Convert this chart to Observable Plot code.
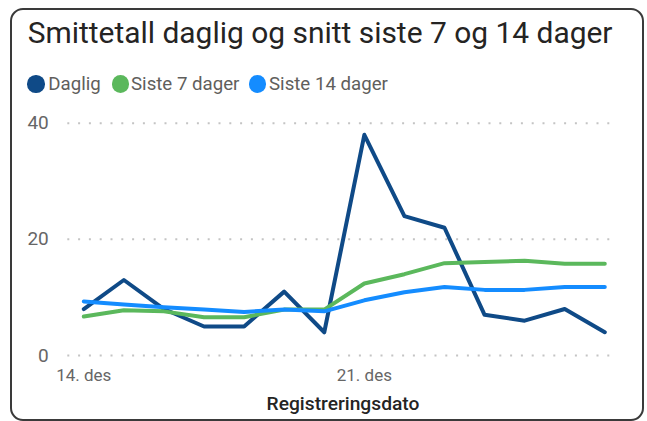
<!DOCTYPE html>
<html>
<head>
<meta charset="utf-8">
<script src="https://cdn.jsdelivr.net/npm/d3@7"></script>
<script src="https://cdn.jsdelivr.net/npm/@observablehq/plot@0.6"></script>
<style>
  html, body { margin: 0; padding: 0; background: #fff; }
  body { width: 647px; height: 421px; overflow: hidden; position: relative; font-family: Roboto, sans-serif; }
  #frame { position: absolute; left: 10px; top: 8px; width: 634px; height: 413px; box-sizing: border-box;
           border: 2px solid #3a3a3a; border-radius: 13px; }
  .txt { position: absolute; white-space: nowrap; line-height: 1; }
  #title { color: #252423; font-size: 29px; }
  .leg { color: #605e5c; font-size: 18px; }
  .dot { position: absolute; border-radius: 50%; }
  #xtitle { color: #252423; font-size: 17px; font-weight: 500; }
  #chart { position: absolute; left: 0; top: 100px; }
</style>
</head>
<body>
<div id="frame"></div>
<div id="title" class="txt"></div>
<div id="legend"></div>
<div id="chart"></div>
<div id="xtitle" class="txt"></div>
<script>
// ---- data ----
const titleText = "Smittetall daglig og snitt siste 7 og 14 dager";
const xTitleText = "Registreringsdato";
const dates = ["2020-12-14","2020-12-15","2020-12-16","2020-12-17","2020-12-18","2020-12-19","2020-12-20",
               "2020-12-21","2020-12-22","2020-12-23","2020-12-24","2020-12-25","2020-12-26","2020-12-27"];
const daglig  = [8, 13, 8, 5, 5, 11, 4, 38, 24, 22, 7, 6, 8, 4];
const siste7  = [6.7, 7.8, 7.6, 6.6, 6.6, 7.9, 7.9, 12.4, 14.0, 15.9, 16.1, 16.3, 15.8, 15.8];
const siste14 = [9.3, 8.8, 8.3, 7.9, 7.5, 7.9, 7.6, 9.5, 10.9, 11.8, 11.3, 11.3, 11.8, 11.8];
const seriesNames = ["Daglig", "Siste 7 dager", "Siste 14 dager"];
const seriesColors = ["#0f4a87", "#5bb85c", "#148cff"];
const yTicks = [0, 20, 40];
const xTicks = ["2020-12-14", "2020-12-21"];
const monthLabel = "des";

// ---- table ----
const parse = d3.utcParse("%Y-%m-%d");
const rows = [];
[daglig, siste7, siste14].forEach((vals, s) =>
  vals.forEach((v, i) => rows.push({date: parse(dates[i]), value: v, series: seriesNames[s]})));

// ---- chart ----
const chart = Plot.plot({
  width: 647, height: 320,
  marginLeft: 83.3, marginRight: 42.7, marginTop: 22.7, marginBottom: 65,
  style: {fontFamily: "Roboto, sans-serif", background: "transparent", overflow: "visible"},
  x: {type: "utc", domain: [parse(dates[0]), parse(dates[dates.length - 1])]},
  y: {domain: [0, 40]},
  color: {domain: seriesNames, range: seriesColors},
  marks: [
    Plot.ruleY(yTicks, {stroke: "#c4c4c4", strokeWidth: 2, strokeDasharray: "2,8.8", insetLeft: -16, insetRight: -10.7}),
    Plot.axisY(yTicks, {tickSize: 0, tickPadding: 35, fontSize: 19, fill: "#666666", label: null}),
    Plot.axisX(xTicks.map(parse), {tickSize: 0, tickPadding: 13, fontSize: 17, fill: "#666666", label: null,
      tickFormat: d => `${d.getUTCDate()}. ${monthLabel}`}),
    Plot.line(rows, {x: "date", y: "value", z: "series", stroke: "series", strokeWidth: 4})
  ]
});
document.getElementById("chart").appendChild(chart);

// ---- text placement helpers ----
function place(el, x, baseline, targetW, anchor) {
  let fs = parseFloat(getComputedStyle(el).fontSize);
  if (targetW) {
    const w = el.getBoundingClientRect().width;
    fs = fs * targetW / w;
    el.style.fontSize = fs + "px";
  }
  const w2 = el.getBoundingClientRect().width;
  el.style.top = (baseline - 0.842 * fs) + "px";
  el.style.left = (anchor === "middle" ? x - w2 / 2 : x) + "px";
  return fs;
}

const t = document.getElementById("title");
t.textContent = titleText;
place(t, 27.7, 43.3, 585);

const xt = document.getElementById("xtitle");
xt.textContent = xTitleText;
place(xt, 343, 410, 153, "middle");

// legend
const legend = document.getElementById("legend");
const dotLeft = [27.3, 111.7, 249];
const textLeft = [48.3, 131, 269];
const labels = seriesNames.map((name, i) => {
  const d = document.createElement("div");
  d.className = "dot";
  Object.assign(d.style, {left: dotLeft[i] + "px", top: (84 - 8.7) + "px", width: "17.4px", height: "17.4px", background: seriesColors[i]});
  legend.appendChild(d);
  const s = document.createElement("div");
  s.className = "txt leg";
  s.textContent = name;
  legend.appendChild(s);
  return s;
});
// fit font size to the widest label, apply to all
const ref = labels[2];
const fsRef = parseFloat(getComputedStyle(ref).fontSize) * 119 / ref.getBoundingClientRect().width;
labels.forEach((s, i) => { s.style.fontSize = fsRef + "px"; place(s, textLeft[i], 90.5); });
</script>
</body>
</html>
